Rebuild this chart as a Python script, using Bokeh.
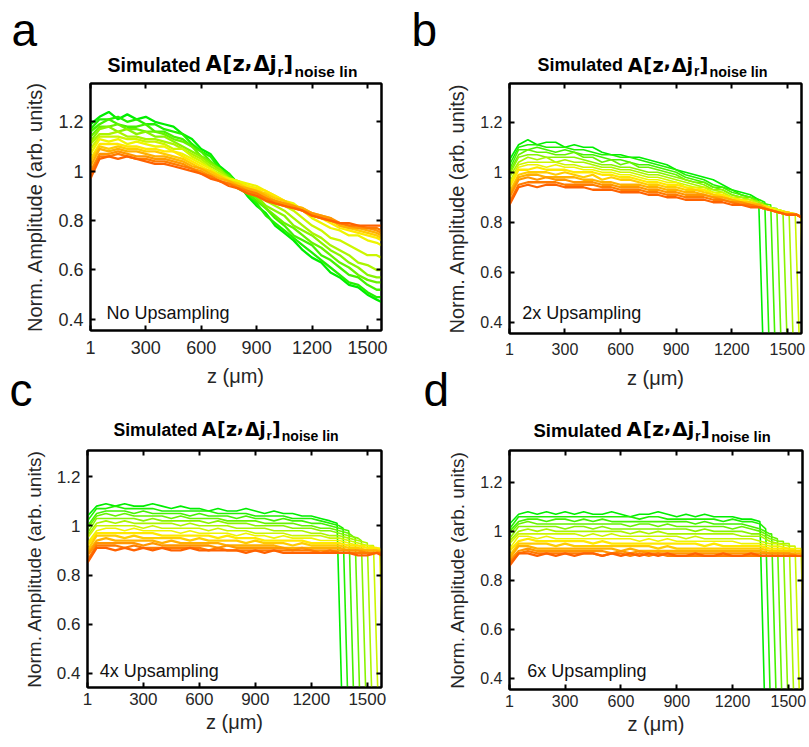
from bokeh.plotting import figure
from bokeh.models import Range1d, FixedTicker, LinearAxis, CustomJSTickFormatter, ColumnDataSource
from bokeh.layouts import row, column
from bokeh.core.properties import value
from bokeh.embed import file_html
from bokeh.resources import INLINE

# ---------------- data ----------------
Z = [1, 50, 100, 150, 200, 250, 300, 350, 400, 450, 500, 550, 600, 650, 700, 750,
     800, 850, 900, 950, 1000, 1050, 1100, 1150, 1200, 1250, 1300, 1350, 1400, 1450,
     1500, 1550, 1576]

X_TICKS = [1, 300, 600, 900, 1200, 1500]
X_TICK_LABELS = ["1", "300", "600", "900", "1200", "1500"]
Y_TICKS = [0.4, 0.6, 0.8, 1.0, 1.2]
Y_TICK_LABELS = ["0.4", "0.6", "0.8", "1", "1.2"]

COLORS = ["#00ee00", "#22f000", "#44f200", "#66f300", "#88f400", "#aaf500", "#ccf600",
          "#eef500", "#ffe800", "#ffcc00", "#ffb000", "#ff9600", "#ff7c00", "#ff6200"]

# panel a : no upsampling
a00 = [1.19,1.22,1.24,1.21,1.23,1.21,1.22,1.20,1.19,1.18,1.15,1.13,1.09,1.07,1.02,0.99,0.95,0.90,0.86,0.83,0.78,0.75,0.72,0.68,0.65,0.63,0.59,0.57,0.54,0.53,0.50,0.48,0.47]
a01 = [1.17,1.21,1.21,1.22,1.20,1.21,1.19,1.19,1.17,1.16,1.15,1.11,1.08,1.06,1.01,0.99,0.94,0.91,0.87,0.82,0.79,0.76,0.73,0.70,0.67,0.64,0.61,0.58,0.55,0.54,0.51,0.49,0.49]
a02 = [1.16,1.19,1.21,1.19,1.18,1.18,1.19,1.16,1.16,1.14,1.13,1.10,1.08,1.04,1.01,0.98,0.93,0.91,0.88,0.85,0.81,0.78,0.74,0.72,0.70,0.66,0.64,0.61,0.58,0.57,0.54,0.52,0.52]
a03 = [1.14,1.18,1.18,1.19,1.17,1.17,1.16,1.16,1.15,1.13,1.12,1.10,1.06,1.04,1.00,0.98,0.95,0.92,0.89,0.85,0.82,0.79,0.77,0.74,0.71,0.69,0.66,0.63,0.61,0.58,0.56,0.55,0.55]
a04 = [1.12,1.17,1.18,1.16,1.17,1.15,1.16,1.14,1.14,1.12,1.10,1.08,1.06,1.03,1.01,0.97,0.95,0.92,0.90,0.86,0.84,0.82,0.78,0.76,0.74,0.71,0.68,0.66,0.63,0.61,0.58,0.57,0.57]
a05 = [1.11,1.15,1.15,1.16,1.14,1.14,1.13,1.13,1.12,1.11,1.09,1.07,1.05,1.02,1.00,0.97,0.96,0.93,0.92,0.88,0.86,0.84,0.81,0.78,0.75,0.73,0.70,0.68,0.66,0.63,0.62,0.60,0.60]
a06 = [1.09,1.14,1.14,1.14,1.13,1.13,1.12,1.12,1.11,1.09,1.09,1.06,1.04,1.01,0.99,0.97,0.96,0.94,0.93,0.90,0.88,0.86,0.84,0.81,0.78,0.76,0.73,0.72,0.70,0.68,0.66,0.66,0.65]
a07 = [1.07,1.13,1.12,1.13,1.11,1.12,1.11,1.10,1.10,1.08,1.07,1.05,1.03,1.01,0.98,0.97,0.96,0.95,0.94,0.92,0.90,0.88,0.87,0.84,0.81,0.79,0.77,0.76,0.74,0.74,0.72,0.71,0.70]
a08 = [1.05,1.11,1.11,1.11,1.10,1.10,1.09,1.09,1.08,1.08,1.06,1.04,1.02,1.00,0.98,0.96,0.95,0.94,0.93,0.92,0.90,0.88,0.86,0.84,0.82,0.81,0.79,0.77,0.76,0.75,0.74,0.73,0.72]
a09 = [1.04,1.10,1.09,1.10,1.09,1.09,1.08,1.08,1.07,1.06,1.05,1.03,1.01,1.00,0.98,0.96,0.95,0.93,0.92,0.91,0.89,0.88,0.86,0.85,0.83,0.81,0.80,0.78,0.77,0.76,0.75,0.74,0.73]
a10 = [1.02,1.09,1.08,1.09,1.08,1.08,1.07,1.06,1.06,1.05,1.04,1.02,1.01,0.99,0.97,0.96,0.94,0.93,0.92,0.90,0.88,0.87,0.86,0.85,0.83,0.82,0.81,0.78,0.77,0.77,0.76,0.75,0.74]
a11 = [1.00,1.07,1.07,1.08,1.07,1.06,1.06,1.05,1.05,1.04,1.03,1.01,1.00,0.98,0.96,0.95,0.94,0.92,0.91,0.89,0.88,0.87,0.86,0.84,0.83,0.82,0.81,0.79,0.78,0.77,0.77,0.76,0.75]
a12 = [0.99,1.06,1.06,1.07,1.06,1.05,1.05,1.04,1.04,1.03,1.02,1.01,0.99,0.98,0.96,0.95,0.93,0.92,0.91,0.89,0.87,0.86,0.85,0.84,0.82,0.81,0.80,0.79,0.78,0.78,0.77,0.77,0.76]
a13 = [0.97,1.05,1.06,1.05,1.06,1.05,1.04,1.03,1.03,1.02,1.01,1.00,0.99,0.97,0.96,0.94,0.93,0.91,0.90,0.88,0.87,0.86,0.85,0.84,0.82,0.81,0.80,0.79,0.79,0.78,0.78,0.78,0.78]

# panel b : 2x upsampling
b00 = [1.05,1.11,1.13,1.11,1.12,1.12,1.10,1.11,1.10,1.10,1.08,1.07,1.07,1.06,1.06,1.05,1.04,1.03,1.01,1.00,0.99,0.98,0.97,0.95,0.93,0.92,0.91,0.89,0.87,0.86,0.85,0.84,0.83]
b01 = [1.03,1.10,1.11,1.11,1.10,1.10,1.10,1.09,1.09,1.08,1.07,1.07,1.06,1.06,1.05,1.04,1.03,1.02,1.01,0.99,0.98,0.97,0.95,0.94,0.93,0.91,0.90,0.89,0.87,0.86,0.85,0.84,0.83]
b02 = [1.01,1.09,1.09,1.10,1.09,1.08,1.09,1.08,1.07,1.07,1.06,1.05,1.05,1.04,1.03,1.03,1.02,1.01,1.00,0.98,0.97,0.96,0.94,0.94,0.92,0.91,0.90,0.88,0.87,0.86,0.85,0.84,0.83]
b03 = [1.00,1.07,1.09,1.08,1.08,1.07,1.07,1.08,1.06,1.06,1.04,1.05,1.03,1.04,1.02,1.02,1.01,1.00,0.99,0.97,0.96,0.96,0.94,0.93,0.91,0.90,0.90,0.88,0.86,0.85,0.84,0.84,0.83]
b04 = [0.99,1.06,1.07,1.07,1.06,1.06,1.06,1.06,1.05,1.04,1.03,1.03,1.02,1.02,1.01,1.00,1.00,0.99,0.98,0.97,0.96,0.95,0.93,0.93,0.91,0.90,0.89,0.88,0.86,0.85,0.84,0.84,0.83]
b05 = [0.98,1.04,1.06,1.05,1.06,1.04,1.05,1.04,1.04,1.03,1.02,1.02,1.01,1.01,1.00,0.99,0.99,0.98,0.97,0.96,0.95,0.94,0.93,0.92,0.90,0.90,0.89,0.88,0.86,0.85,0.84,0.83,0.83]
b06 = [0.96,1.03,1.04,1.04,1.04,1.04,1.03,1.03,1.02,1.02,1.01,1.01,1.00,1.00,0.99,0.98,0.98,0.97,0.96,0.95,0.94,0.94,0.92,0.92,0.90,0.89,0.89,0.87,0.86,0.85,0.84,0.83,0.83]
b07 = [0.95,1.02,1.03,1.03,1.02,1.03,1.02,1.02,1.01,1.01,1.00,1.00,0.99,0.99,0.98,0.97,0.97,0.96,0.96,0.94,0.94,0.93,0.92,0.91,0.90,0.89,0.88,0.87,0.86,0.85,0.84,0.83,0.82]
b08 = [0.94,1.01,1.01,1.02,1.01,1.01,1.01,1.00,1.00,1.00,0.99,0.99,0.98,0.98,0.97,0.96,0.96,0.95,0.95,0.94,0.93,0.93,0.91,0.91,0.89,0.89,0.88,0.87,0.86,0.84,0.84,0.83,0.82]
b09 = [0.92,0.99,1.00,1.00,1.00,0.99,1.00,0.99,0.98,0.99,0.97,0.98,0.97,0.97,0.96,0.95,0.95,0.94,0.94,0.93,0.93,0.92,0.91,0.90,0.89,0.88,0.88,0.87,0.85,0.84,0.84,0.83,0.82]
b10 = [0.91,0.98,0.99,0.99,0.98,0.98,0.98,0.98,0.97,0.97,0.96,0.96,0.95,0.95,0.95,0.94,0.94,0.93,0.93,0.92,0.92,0.91,0.90,0.90,0.89,0.88,0.87,0.87,0.85,0.84,0.83,0.83,0.82]
b11 = [0.90,0.97,0.98,0.97,0.98,0.97,0.97,0.96,0.96,0.96,0.95,0.95,0.94,0.94,0.94,0.93,0.93,0.92,0.92,0.91,0.91,0.91,0.90,0.89,0.88,0.88,0.87,0.86,0.85,0.84,0.83,0.83,0.82]
b12 = [0.88,0.95,0.96,0.96,0.96,0.96,0.95,0.95,0.95,0.95,0.94,0.94,0.93,0.93,0.93,0.92,0.92,0.91,0.91,0.90,0.90,0.90,0.89,0.89,0.88,0.87,0.87,0.86,0.85,0.84,0.83,0.83,0.82]
b13 = [0.87,0.94,0.95,0.94,0.95,0.95,0.94,0.94,0.94,0.93,0.93,0.93,0.92,0.92,0.92,0.91,0.91,0.90,0.90,0.89,0.89,0.89,0.88,0.88,0.87,0.87,0.86,0.86,0.85,0.84,0.83,0.83,0.82]
b_end = [1345, 1378, 1410, 1443, 1476, 1509, 1542, 1572]
b_top = [0.89, 0.88, 0.87, 0.855, 0.845, 0.84, 0.835, 0.825]
b_zero = [1381, 1414, 1446, 1479, 1512, 1545, 1578, 1608]

# panel c : 4x upsampling
c00 = [1.04,1.08,1.09,1.08,1.09,1.08,1.08,1.09,1.08,1.07,1.08,1.07,1.07,1.06,1.07,1.06,1.06,1.07,1.06,1.05,1.06,1.05,1.05,1.04,1.04,1.03,1.02,1.01,0.99,0.97,0.95,0.94,0.93]
c01 = [1.02,1.07,1.07,1.08,1.07,1.07,1.07,1.07,1.06,1.06,1.06,1.06,1.06,1.06,1.05,1.05,1.05,1.05,1.04,1.04,1.04,1.04,1.03,1.03,1.03,1.02,1.01,1.00,0.98,0.96,0.95,0.94,0.93]
c02 = [1.00,1.05,1.06,1.06,1.06,1.05,1.06,1.05,1.05,1.05,1.05,1.04,1.05,1.04,1.04,1.04,1.03,1.04,1.03,1.03,1.02,1.03,1.02,1.02,1.01,1.01,1.00,0.99,0.98,0.96,0.94,0.93,0.92]
c03 = [0.99,1.04,1.05,1.04,1.05,1.04,1.04,1.04,1.04,1.03,1.04,1.03,1.03,1.03,1.03,1.02,1.02,1.02,1.02,1.01,1.01,1.01,1.01,1.00,1.00,0.99,0.99,0.98,0.97,0.95,0.94,0.93,0.92]
c04 = [0.97,1.03,1.03,1.03,1.03,1.03,1.02,1.03,1.02,1.02,1.02,1.02,1.02,1.01,1.02,1.01,1.01,1.01,1.00,1.00,1.00,1.00,0.99,0.99,0.99,0.98,0.98,0.97,0.96,0.95,0.93,0.92,0.92]
c05 = [0.96,1.01,1.02,1.01,1.02,1.01,1.01,1.01,1.01,1.01,1.00,1.01,1.00,1.00,1.00,1.00,0.99,0.99,0.99,0.99,0.98,0.98,0.98,0.98,0.97,0.97,0.96,0.96,0.95,0.94,0.93,0.92,0.91]
c06 = [0.95,1.00,1.00,1.00,1.00,1.00,0.99,1.00,0.99,0.99,0.99,0.99,0.99,0.98,0.99,0.98,0.98,0.98,0.97,0.97,0.97,0.97,0.96,0.96,0.96,0.96,0.95,0.95,0.94,0.93,0.92,0.92,0.91]
c07 = [0.93,0.98,0.99,0.99,0.98,0.99,0.98,0.98,0.98,0.98,0.97,0.98,0.97,0.97,0.97,0.97,0.96,0.97,0.96,0.96,0.95,0.96,0.95,0.95,0.95,0.94,0.94,0.94,0.93,0.92,0.92,0.91,0.91]
c08 = [0.92,0.97,0.97,0.97,0.97,0.97,0.97,0.97,0.96,0.96,0.96,0.96,0.96,0.96,0.95,0.96,0.95,0.95,0.95,0.94,0.94,0.94,0.94,0.94,0.93,0.93,0.93,0.93,0.92,0.92,0.91,0.91,0.90]
c09 = [0.90,0.96,0.96,0.96,0.95,0.96,0.95,0.95,0.95,0.95,0.95,0.94,0.95,0.94,0.94,0.94,0.94,0.93,0.94,0.93,0.93,0.93,0.92,0.93,0.92,0.92,0.92,0.92,0.91,0.91,0.90,0.90,0.90]
c10 = [0.89,0.94,0.95,0.94,0.94,0.94,0.94,0.94,0.93,0.94,0.93,0.93,0.93,0.93,0.93,0.92,0.92,0.92,0.92,0.92,0.92,0.91,0.91,0.91,0.91,0.91,0.91,0.91,0.90,0.90,0.90,0.90,0.89]
c11 = [0.88,0.93,0.93,0.93,0.93,0.93,0.92,0.93,0.92,0.92,0.92,0.92,0.92,0.92,0.91,0.92,0.91,0.91,0.91,0.91,0.91,0.91,0.90,0.91,0.90,0.90,0.90,0.90,0.90,0.90,0.89,0.89,0.89]
c12 = [0.86,0.92,0.92,0.92,0.91,0.92,0.91,0.91,0.91,0.91,0.91,0.91,0.91,0.90,0.91,0.90,0.90,0.90,0.90,0.90,0.90,0.90,0.90,0.90,0.90,0.89,0.90,0.89,0.89,0.89,0.89,0.89,0.89]
c13 = [0.85,0.91,0.91,0.90,0.91,0.90,0.91,0.90,0.91,0.90,0.90,0.91,0.90,0.90,0.90,0.90,0.90,0.89,0.90,0.89,0.90,0.89,0.89,0.89,0.89,0.89,0.89,0.89,0.89,0.88,0.88,0.89,0.88]
c_end = [1338, 1370, 1402, 1435, 1468, 1500, 1533, 1566]
c_top = [1.01, 0.99, 0.97, 0.95, 0.94, 0.93, 0.92, 0.91]
c_zero = [1374, 1406, 1438, 1471, 1504, 1536, 1569, 1602]

# panel d : 6x upsampling
d00 = [1.03,1.07,1.08,1.07,1.08,1.07,1.08,1.07,1.08,1.07,1.07,1.08,1.07,1.06,1.07,1.07,1.08,1.07,1.06,1.07,1.06,1.07,1.06,1.06,1.06,1.05,1.05,1.04,1.01,0.99,0.98,0.97,0.96]
d01 = [1.01,1.06,1.06,1.06,1.06,1.06,1.06,1.06,1.06,1.06,1.06,1.06,1.06,1.06,1.05,1.06,1.06,1.05,1.05,1.05,1.05,1.05,1.05,1.04,1.05,1.04,1.04,1.03,1.00,0.98,0.97,0.96,0.95]
d02 = [1.00,1.04,1.05,1.05,1.04,1.05,1.05,1.04,1.05,1.04,1.05,1.04,1.04,1.04,1.04,1.04,1.04,1.04,1.04,1.04,1.03,1.04,1.03,1.03,1.03,1.03,1.02,1.01,0.99,0.98,0.96,0.96,0.95]
d03 = [0.99,1.03,1.04,1.03,1.03,1.03,1.03,1.03,1.03,1.03,1.03,1.03,1.03,1.02,1.03,1.03,1.02,1.03,1.02,1.02,1.02,1.02,1.02,1.02,1.01,1.02,1.01,1.00,0.98,0.97,0.96,0.95,0.94]
d04 = [0.97,1.02,1.02,1.02,1.02,1.02,1.01,1.02,1.02,1.01,1.02,1.01,1.01,1.01,1.01,1.01,1.01,1.01,1.01,1.01,1.00,1.01,1.00,1.00,1.00,1.00,0.99,0.99,0.97,0.96,0.95,0.95,0.94]
d05 = [0.96,1.00,1.01,1.00,1.01,1.00,1.00,1.00,1.00,1.00,1.00,1.00,1.00,0.99,1.00,0.99,1.00,0.99,0.99,0.99,0.99,0.99,0.99,0.99,0.99,0.98,0.98,0.98,0.96,0.95,0.95,0.94,0.94]
d06 = [0.95,0.99,0.99,0.99,0.99,0.99,0.99,0.99,0.98,0.99,0.98,0.99,0.98,0.98,0.98,0.98,0.98,0.98,0.98,0.97,0.98,0.97,0.97,0.97,0.97,0.97,0.97,0.96,0.95,0.95,0.94,0.94,0.93]
d07 = [0.93,0.98,0.98,0.97,0.98,0.97,0.97,0.97,0.97,0.97,0.97,0.97,0.97,0.97,0.96,0.97,0.96,0.97,0.96,0.96,0.96,0.96,0.96,0.96,0.96,0.95,0.95,0.95,0.94,0.94,0.93,0.93,0.93]
d08 = [0.92,0.96,0.97,0.96,0.96,0.96,0.96,0.96,0.96,0.95,0.96,0.95,0.95,0.95,0.95,0.95,0.95,0.95,0.95,0.95,0.95,0.94,0.95,0.94,0.94,0.94,0.94,0.94,0.93,0.93,0.93,0.92,0.92]
d09 = [0.90,0.95,0.95,0.95,0.95,0.94,0.95,0.94,0.94,0.94,0.94,0.94,0.94,0.94,0.94,0.94,0.93,0.94,0.93,0.93,0.93,0.93,0.93,0.93,0.93,0.93,0.93,0.93,0.92,0.92,0.92,0.92,0.92]
d10 = [0.89,0.94,0.94,0.93,0.93,0.93,0.93,0.93,0.93,0.93,0.93,0.93,0.92,0.93,0.92,0.92,0.92,0.92,0.92,0.92,0.92,0.92,0.92,0.92,0.92,0.92,0.92,0.92,0.91,0.91,0.91,0.91,0.91]
d11 = [0.88,0.92,0.93,0.92,0.92,0.92,0.92,0.92,0.92,0.92,0.92,0.91,0.92,0.91,0.92,0.91,0.91,0.91,0.91,0.91,0.91,0.91,0.91,0.91,0.91,0.91,0.91,0.91,0.91,0.91,0.91,0.90,0.90]
d12 = [0.87,0.91,0.92,0.91,0.91,0.91,0.91,0.91,0.91,0.91,0.90,0.91,0.91,0.90,0.91,0.90,0.91,0.90,0.90,0.90,0.90,0.90,0.90,0.90,0.90,0.90,0.90,0.90,0.90,0.90,0.90,0.90,0.90]
d13 = [0.86,0.91,0.91,0.90,0.91,0.90,0.91,0.90,0.91,0.91,0.90,0.91,0.90,0.91,0.90,0.91,0.90,0.91,0.90,0.90,0.91,0.90,0.90,0.91,0.90,0.90,0.91,0.90,0.90,0.90,0.90,0.90,0.90]
d_end = [1347, 1378, 1410, 1441, 1473, 1505, 1536, 1568]
d_top = [1.04, 1.01, 0.99, 0.97, 0.96, 0.95, 0.94, 0.93]
d_zero = [1383, 1414, 1446, 1477, 1509, 1541, 1572, 1604]

TITLE_PARTS = ["Simulated", "A", "[", "z", ",", "\u0394", "j", "r", "]", "noise lin"]
NOTES = ["No Upsampling", "2x Upsampling", "4x Upsampling", "6x Upsampling"]
LETTERS = ["a", "b", "c", "d"]
X_LABEL = "z (\u03bcm)"
Y_LABEL = "Norm. Amplitude (arb. units)"

# ---------------- styling / layout ----------------
FONT = "Liberation Sans"
FONT_SYM = "DejaVu Sans"
# distance (in em) from a text's "top" anchor to its baseline
TOP_TO_BASE = {FONT: 0.905, FONT_SYM: 0.928}
INK = "#262626"
X0, X1 = 1, 1576

# page rows: header 1 (0-80), plots a/b (80-361), header 2 (361-447), plots c/d (447-747)
GEOM = {
    "a": dict(L=90, R=19, T=2, B=32, FW=291, FH=247, y0=0.355, y1=1.355, std=10, tick=18, ylab=20, xlab=False),
    "b": dict(L=109, R=8, T=3, B=28, FW=292, FH=250, y0=0.355, y1=1.355, std=9, tick=16, ylab=20, xlab=False),
    "c": dict(L=87, R=19, T=3, B=60, FW=294, FH=237, y0=0.343, y1=1.306, std=5, tick=17, ylab=19, xlab=True),
    "d": dict(L=109, R=7, T=3, B=58, FW=293, FH=239, y0=0.355, y1=1.330, std=5, tick=16, ylab=19, xlab=True),
}
NOTE_POS = {"a": (88, 0.424), "b": (70, 0.436), "c": (66, 0.412), "d": (97, 0.432)}

# title glyph offsets (px from title start), baseline shifts, sizes and fonts
T_OFF = [0, 98, 115, 125, 137, 146, 162, 170, 176, 187]
T_DY = [0, 0, 0, 0, 0, 0, 0, 5, 0, 6]
T_SIZE = [19.5, 21, 21, 21, 21, 21, 21, 15, 21, 15.5]
T_FONT = [FONT, FONT_SYM, FONT_SYM, FONT_SYM, FONT_SYM, FONT_SYM, FONT_SYM, FONT, FONT_SYM, FONT]
TITLE_AT = {"a": (107, 71, 1.0), "b": (537, 71, 0.92), "c": (113, 435, 0.9), "d": (533, 436, 0.95)}


def fmt(ticks, labels):
    return CustomJSTickFormatter(args=dict(vals=ticks, labs=labels),
                                 code="const i = vals.indexOf(tick); return i >= 0 ? labs[i] : '';")


def make(name, curves, note, ends=None, tops=None, zeros=None):
    g = GEOM[name]
    p = figure(frame_width=g["FW"], frame_height=g["FH"], min_border_left=g["L"],
               min_border_right=g["R"], min_border_top=g["T"], min_border_bottom=g["B"],
               x_range=Range1d(X0, X1), y_range=Range1d(g["y0"], g["y1"]),
               output_backend="svg", toolbar_location=None, x_axis_location=None,
               y_axis_location=None)
    p.xgrid.visible = False
    p.ygrid.visible = False
    p.outline_line_color = "#000000"
    p.outline_line_width = 2
    p.background_fill_color = "white"
    p.border_fill_color = "white"

    for side in ("below", "left", "above", "right"):
        horiz = side in ("below", "above")
        main = side in ("below", "left")
        ticks = X_TICKS if horiz else Y_TICKS
        if main:
            f = fmt(X_TICKS, X_TICK_LABELS) if horiz else fmt(Y_TICKS, Y_TICK_LABELS)
        else:
            f = CustomJSTickFormatter(code="return '';")
        ax = LinearAxis(ticker=FixedTicker(ticks=ticks), formatter=f)
        ax.axis_line_color = "#000000"
        ax.axis_line_width = 2
        ax.major_tick_in = 5
        ax.major_tick_out = 0
        ax.major_tick_line_color = "#000000"
        ax.major_tick_line_width = 2
        ax.minor_tick_line_color = None
        ax.major_label_text_font = FONT
        if main:
            ax.major_label_text_color = INK
            ax.major_label_text_font_size = f"{g['tick']}px"
            ax.major_label_standoff = g["std"] if horiz else 7
            if (not horiz) or g["xlab"]:
                ax.axis_label = X_LABEL if horiz else Y_LABEL
                ax.axis_label_text_font = FONT
                ax.axis_label_text_font_size = "20px" if horiz else f"{g['ylab']}px"
                ax.axis_label_text_font_style = "normal"
                ax.axis_label_text_color = INK
                ax.axis_label_standoff = 3 if horiz else 9
        else:
            ax.major_label_text_color = None
            ax.major_label_text_font_size = "1px"
            ax.major_label_standoff = 0
        p.add_layout(ax, side)

    n_drop = len(ends) if ends else 0
    for k, (ys, col) in enumerate(zip(curves, COLORS)):
        if k < n_drop:
            xs = [z for z in Z if z < ends[k]] + [ends[k], zeros[k]]
            yv = ys[:len(xs) - 2] + [tops[k], 0.0]
            w = 1.6
        else:
            xs, yv = Z, ys
            w = 2.3
        p.line(xs, yv, line_color=col, line_width=w)

    nx, ny = NOTE_POS[name]
    p.text(x=[nx], y=[ny], text=[note], text_font=value(FONT), text_font_size=value("18px"),
           text_color="#111111", text_baseline="alphabetic", text_align="left")
    return p


def header(h, y_shift, items):
    """items: (page_x, page_baseline_y, text, size_px, style, align, color, font)"""
    p = figure(width=809, height=h, x_range=Range1d(0, 809), y_range=Range1d(h, 0),
               min_border=0, output_backend="svg", toolbar_location=None,
               x_axis_location=None, y_axis_location=None)
    p.xgrid.visible = False
    p.ygrid.visible = False
    p.outline_line_color = None
    src = ColumnDataSource(dict(
        x=[it[0] for it in items],
        y=[it[1] - y_shift - TOP_TO_BASE[it[7]] * it[3] for it in items],
        t=[it[2] for it in items], size=[f"{it[3]}px" for it in items],
        style=[it[4] for it in items], align=[it[5] for it in items],
        color=[it[6] for it in items], font=[it[7] for it in items]))
    p.text(x="x", y="y", text="t", source=src, text_font="font", text_font_size="size",
           text_font_style="style", text_align="align", text_color="color",
           text_baseline="top")
    return p


def title_items(key):
    x0, yb, s = TITLE_AT[key]
    return [(x0 + o * s, yb + dy * s, t, round(sz * s, 1), "bold", "left", "#000000", fnt)
            for t, o, dy, sz, fnt in zip(TITLE_PARTS, T_OFF, T_DY, T_SIZE, T_FONT)]


pa = make("a", [a00, a01, a02, a03, a04, a05, a06, a07, a08, a09, a10, a11, a12, a13], NOTES[0])
pb = make("b", [b00, b01, b02, b03, b04, b05, b06, b07, b08, b09, b10, b11, b12, b13], NOTES[1], b_end, b_top, b_zero)
pc = make("c", [c00, c01, c02, c03, c04, c05, c06, c07, c08, c09, c10, c11, c12, c13], NOTES[2], c_end, c_top, c_zero)
pd = make("d", [d00, d01, d02, d03, d04, d05, d06, d07, d08, d09, d10, d11, d12, d13], NOTES[3], d_end, d_top, d_zero)

h1_items = [(11, 45, LETTERS[0], 46, "normal", "left", "#000000", FONT),
            (411, 45, LETTERS[1], 46, "normal", "left", "#000000", FONT)] + title_items("a") + title_items("b")
h2_items = [(235, 383, X_LABEL, 20, "normal", "center", INK, FONT),
            (655, 385, X_LABEL, 20, "normal", "center", INK, FONT),
            (9, 405, LETTERS[2], 46, "normal", "left", "#000000", FONT),
            (423, 405, LETTERS[3], 46, "normal", "left", "#000000", FONT)] + title_items("c") + title_items("d")

h1 = header(80, 0, h1_items)
h2 = header(86, 361, h2_items)

layout = column(h1, row(pa, pb), h2, row(pc, pd))
open("out.html", "w").write(file_html(layout, INLINE))
